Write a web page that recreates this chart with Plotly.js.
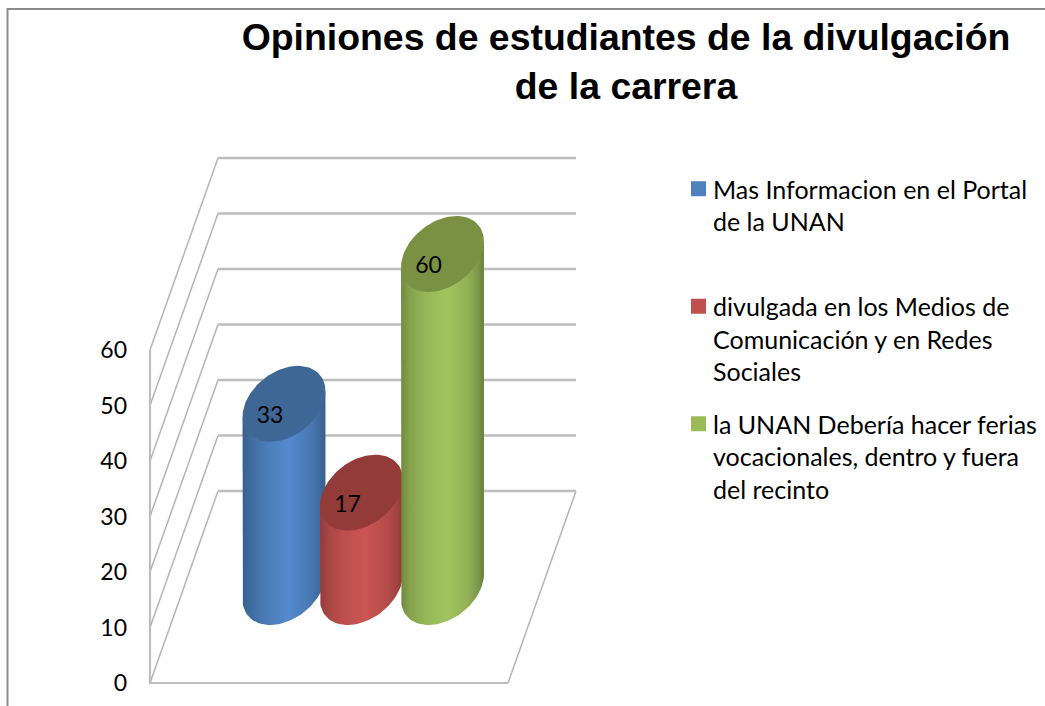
<!DOCTYPE html>
<html><head><meta charset="utf-8">
<script src="https://cdn.plot.ly/plotly-3.0.1.min.js"></script>
<style>html,body{margin:0;padding:0;background:#fff}#c{width:1045px;height:706px}</style>
</head><body><div id="c"></div>
<script>
// ---- data ----
const categories = ['Mas Informacion en el Portal<br>de la UNAN<br> ',
  'divulgada en los Medios de<br>Comunicación y en Redes<br>Sociales',
  'la UNAN Debería hacer ferias<br>vocacionales, dentro y fuera<br>del recinto'];
const seriesValues = [33, 17, 60];
const tickValues = [0, 10, 20, 30, 40, 50, 60];
const titleText = 'Opiniones de estudiantes de la divulgación<br>de la carrera';

// ---- style / projection ----
const W = 1045, H = 706, zeroPx = 683, pxPerUnit = 5.55;
const depthUnits = 34.6;
const wallLeft = 150, wallBack = 218, backRight = 576, frontRight = 508;
const centers = [284, 361.5, 442.5];
const baseUnits = (zeroPx - 587) / pxPerUnit;
const rx = 39, sx = 14, ry = 38;
const legendColors = ['#4F81BD', '#C0504D', '#9BBB59'];
const capColors = ['#3F6795', '#923B39', '#7A9144'];
const bodyScales = [
  [[0,'#365F8F'],[0.1,'#3F6C9F'],[0.3,'#4C7DB8'],[0.55,'#5389CE'],[0.8,'#4A7AB4'],[0.93,'#3F6A9E'],[1,'#365E8E']],
  [[0,'#8F3C3A'],[0.1,'#A84644'],[0.3,'#BE504D'],[0.55,'#CB5552'],[0.8,'#B64D4A'],[0.93,'#A04341'],[1,'#8B3A38']],
  [[0,'#6F8A41'],[0.1,'#85A14C'],[0.3,'#97B758'],[0.55,'#A2C45E'],[0.8,'#92B155'],[0.93,'#7C974A'],[1,'#667F3B']]
];

function ellipsePoint(cx, midUnits, t) {
  return [cx + rx * Math.cos(t) + sx * Math.sin(t), midUnits + ry * Math.sin(t) / pxPerUnit];
}
const tL = Math.PI + Math.atan2(sx, rx), tR = tL + Math.PI;
const traces = [];

// walls and floor from the axis values
const hx = [], hy = [], sxs = [], sys = [];
tickValues.forEach(v => {
  hx.push(wallBack, backRight, null); hy.push(v + depthUnits, v + depthUnits, null);
  sxs.push(wallLeft, wallBack, null); sys.push(v, v + depthUnits, null);
});
sxs.push(frontRight, backRight); sys.push(0, depthUnits);
const maxTick = tickValues[tickValues.length - 1];
const common = {type:'scatter', mode:'lines', hoverinfo:'skip', showlegend:false};
traces.push({...common, x:sxs, y:sys, line:{color:'#B4B4B4', width:1.5}});
traces.push({...common, x:hx, y:hy, line:{color:'#BDBDBD', width:2.4}});
traces.push({...common, x:[wallLeft, wallLeft, frontRight], y:[maxTick, 0, 0], line:{color:'#BDBDBD', width:2.2}});

// cylinders
seriesValues.forEach((v, i) => {
  const cx = centers[i], bx = [], by = [], capx = [], capy = [];
  const P0 = ellipsePoint(cx, baseUnits + v, tL);
  bx.push(P0[0]); by.push(P0[1]);
  for (let k = 0; k <= 48; k++) {
    const p = ellipsePoint(cx, baseUnits, tL + (tR - tL) * k / 48);
    bx.push(p[0]); by.push(p[1]);
  }
  const P1 = ellipsePoint(cx, baseUnits + v, tR);
  bx.push(P1[0]); by.push(P1[1]);
  traces.push({...common, x:bx, y:by, fill:'toself', line:{width:0},
    fillcolor:legendColors[i], fillgradient:{type:'horizontal', colorscale:bodyScales[i]}});
  for (let k = 0; k <= 96; k++) {
    const p = ellipsePoint(cx, baseUnits + v, 2 * Math.PI * k / 96);
    capx.push(p[0]); capy.push(p[1]);
  }
  traces.push({...common, x:capx, y:capy, fill:'toself', line:{width:0}, fillcolor:capColors[i]});
});

// value labels
traces.push({type:'scatter', mode:'text', hoverinfo:'skip', showlegend:false,
  x:centers.map(c => c - 14),
  y:seriesValues.map(v => baseUnits + v - 13.5 / pxPerUnit),
  text:seriesValues.map(String),
  textposition:'middle center',
  textfont:{family:'Lato, Carlito, sans-serif', size:23, color:'#000'}});

// legend entries
categories.forEach((name, i) => {
  traces.push({type:'scatter', mode:'markers', x:[null], y:[null], name:name, legendgroup:'g' + i,
    hoverinfo:'skip', marker:{symbol:'square', size:15, color:legendColors[i]}});
});

const layout = {
  width:W, height:H, paper_bgcolor:'#fff', plot_bgcolor:'#fff',
  margin:{l:0, r:0, t:0, b:0},
  title:{text:titleText, x:626/W, xanchor:'center', xref:'paper', y:1-50/H, yanchor:'top', yref:'paper',
    font:{family:'Liberation Sans, Arial, sans-serif', size:37.4, color:'#000', weight:700}},
  xaxis:{range:[0, W], visible:false, fixedrange:true},
  yaxis:{range:[(zeroPx - H) / pxPerUnit, zeroPx / pxPerUnit], anchor:'free', position:wallLeft / W,
    tickmode:'array', tickvals:tickValues, ticktext:tickValues.map(String),
    showgrid:false, zeroline:false, showline:false, ticks:'', ticklabelstandoff:23,
    tickfont:{family:'Lato, Carlito, sans-serif', size:23, color:'#000'}, fixedrange:true},
  legend:{x:673/W, y:1-166/H, xanchor:'left', yanchor:'top', bgcolor:'rgba(0,0,0,0)',
    valign:'top', tracegroupgap:17, itemwidth:30, traceorder:'grouped',
    font:{family:'Lato, Carlito, sans-serif', size:25, color:'#000'}},
  showlegend:true,
  shapes:[{type:'path', xref:'x', yref:'paper', path:`M 7.5 0 L 7.5 ${1-9/H} L ${W} ${1-9/H}`,
    line:{color:'#8A8A8A', width:2}}]
};
Plotly.newPlot('c', traces, layout, {displayModeBar:false, responsive:false}).then(gd => {
  gd.querySelectorAll('.legendsymbols').forEach(g => g.setAttribute('transform', 'translate(5.5,0)'));
});
</script></body></html>
